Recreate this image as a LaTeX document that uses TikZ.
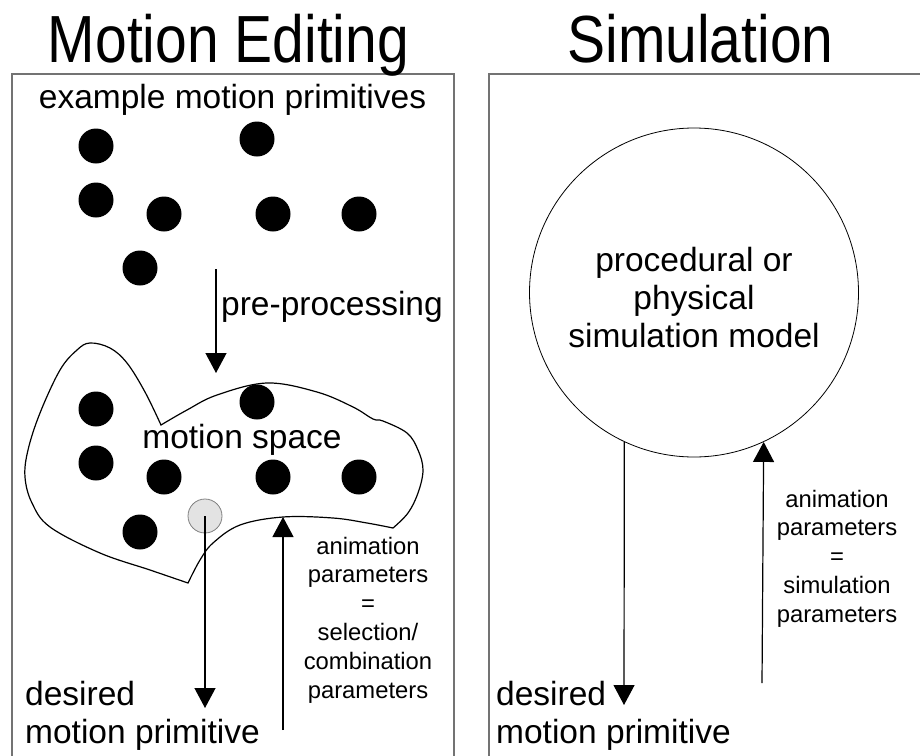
\documentclass[tikz,border=0pt]{standalone}
\usepackage{fontspec}
\setmainfont{Liberation Sans}
\usetikzlibrary{arrows.meta}

\begin{document}
\begin{tikzpicture}[x=1pt,y=-1pt,
  frame/.style={draw=black!55, line width=1.5pt},
  dot/.style={circle, fill=black, minimum size=35pt, inner sep=0pt},
  picked/.style={circle, fill=black!11, draw=black!50, line width=0.8pt, minimum size=34pt, inner sep=0pt},
  flow/.style={line width=1.2pt, -{Triangle[length=20pt,width=21pt]}},
  bigtext/.style={font=\fontsize{33.5}{38}\selectfont, inner sep=0pt},
  smalltext/.style={font=\fontsize{23.8}{28.8}\selectfont, inner sep=0pt, align=center},
  titletext/.style={font=\fontsize{57}{60}\selectfont, inner sep=0pt}]

\useasboundingbox[fill=white] (0,0) rectangle (920,755);

% panel frames (open at the bottom)
\draw[frame] (12,770) |- (454,74) -- (454,770);
\draw[frame] (489,770) |- (930,74);

% titles (set a little taller than the plain font)
\node[titletext, anchor=base] (tleft) at (228.5,62) {\scalebox{1}[1.17]{Motion Editing}};
\node[titletext, anchor=base] (tright) at (700.5,62) {\scalebox{1}[1.17]{Simulation}};

% ---------- Motion Editing panel ----------
\node[bigtext] (examples) at (232.5,100) {example motion primitives};

\node[dot] (e1) at (96,146) {};
\node[dot] (e2) at (257,139) {};
\node[dot] (e3) at (96,200) {};
\node[dot] (e4) at (164,214) {};
\node[dot] (e5) at (273,214) {};
\node[dot] (e6) at (359,214) {};
\node[dot] (e7) at (140,268) {};

% motion space outline
\draw[line width=1.2pt]
  plot[smooth, tension=0.6] coordinates {(161,425) (187,410) (217,395) (267,383) (317,392) (353,407) (373,419) (383,421) (407,433) (418,450) (423,470) (418,493) (408,513) (393,528)}
  -- plot[smooth, tension=0.6] coordinates {(393,528) (367,523) (333,518) (283,517) (240,525) (213,543) (200,560) (188,583)}
  -- plot[smooth, tension=0.6] coordinates {(188,583) (150,570) (100,553) (50,527) (32,503) (25,477) (28,450) (40,413) (60,370) (77,350) (90,343) (110,348) (127,363) (145,392) (161,425)}
  -- cycle;

\coordinate (ppstart) at (216,269);
\coordinate (spacetop) at (216,373);
\draw[flow] (ppstart) -- (spacetop);
\node[bigtext, anchor=west] (pp) at (221,307) {pre-processing};

\node[bigtext] (space) at (242,440) {motion space};

\node[dot] (s1) at (96,409) {};
\node[dot] (s2) at (257,402) {};
\node[dot] (s3) at (96,463) {};
\node[dot] (s4) at (164,477) {};
\node[dot] (s5) at (273,477) {};
\node[dot] (s6) at (359,477) {};
\node[dot] (s7) at (140,532) {};
\node[picked] (sel) at (205,516) {};

\node[bigtext, align=left, anchor=west] (desiredL) at (25,715.5) {desired\\motion primitive};
\coordinate (outL) at (205,708);
\draw[flow] (sel.center) -- (outL);

\coordinate (inL) at (283,730);
\coordinate (spacebottom) at (283,517);
\draw[flow] (inL) -- (spacebottom);
\node[smalltext] (paramsL) at (368,620) {animation\\parameters\\=\\selection/\\combination\\parameters};

% ---------- Simulation panel ----------
\node[circle, draw=black, line width=0.8pt, minimum size=329pt, inner sep=0pt] (model) at (694,292.5) {};
\node[bigtext, align=center] (modeltext) at (694,297.5) {procedural or\\physical\\simulation model};

\coordinate (outR) at (624,705);
\draw[flow] (model.-115.3) -- (outR);
\node[bigtext, align=left, anchor=west] (desiredR) at (496,715.5) {desired\\motion primitive};

\coordinate (inR) at (762,683);
\draw[flow] (inR) -- (model.-65.5);
\node[smalltext] (paramsR) at (837,558.5) {animation\\parameters\\=\\simulation\\parameters};
\end{tikzpicture}
\end{document}
